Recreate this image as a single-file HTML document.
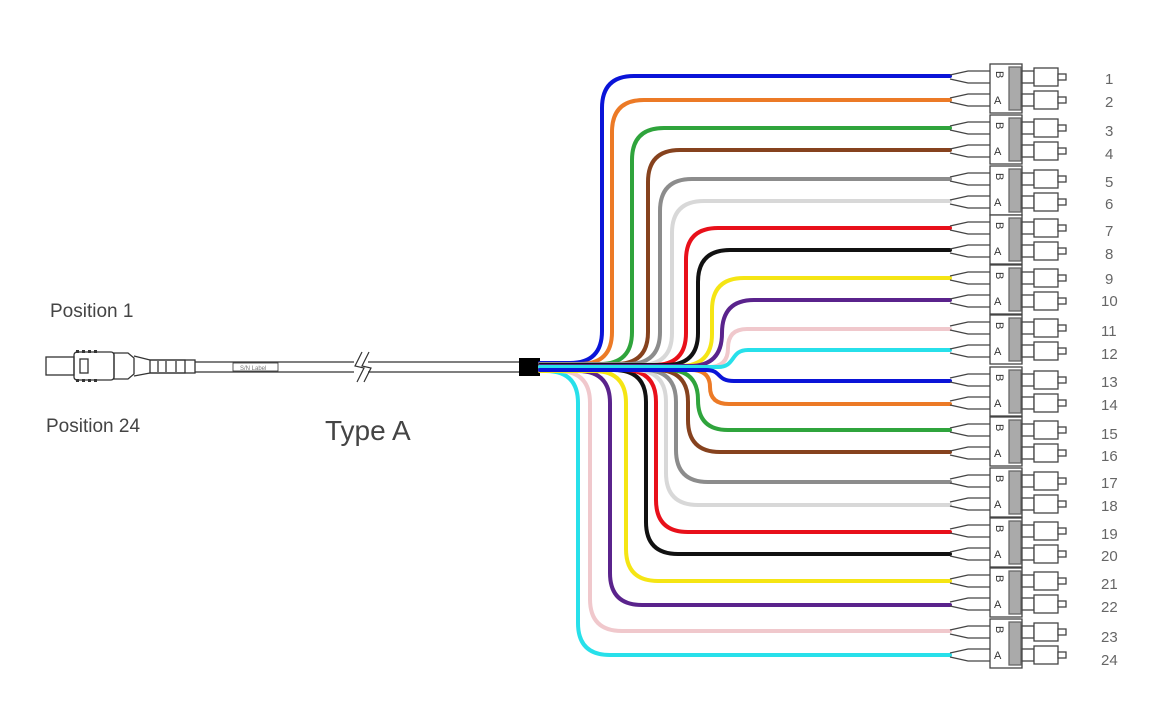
<!DOCTYPE html>
<html><head><meta charset="utf-8"><style>
html,body{margin:0;padding:0;background:#fff;}
svg{display:block}
text{font-family:"Liberation Sans",sans-serif;}
</style></head><body>
<svg width="1169" height="721" viewBox="0 0 1169 721" xmlns="http://www.w3.org/2000/svg">
<defs>
<g id="lc" fill="none" stroke="#444" stroke-width="1.3">
  <path d="M950,-2 L968,-6 H990 M950,2 L968,6 H990" />
  <path d="M950,21 L968,17 H990 M950,25 L968,29 H990" />
  <rect x="990" y="-13" width="32" height="49" fill="#fff"/>
  <rect x="1009" y="-10" width="12" height="43" fill="#aaa" stroke="#666"/>
  <rect x="1022" y="-6" width="12" height="12" fill="#fff"/>
  <rect x="1022" y="17" width="12" height="12" fill="#fff"/>
  <rect x="1034" y="-9" width="24" height="18" fill="#fff"/>
  <rect x="1034" y="14" width="24" height="18" fill="#fff"/>
  <rect x="1058" y="-3" width="8" height="6" fill="#fff"/>
  <rect x="1058" y="20" width="8" height="6" fill="#fff"/>
</g>
</defs>

<!-- left connector -->
<g fill="none" stroke="#333" stroke-width="1.3">
  <rect x="46" y="357" width="28" height="18"/>
  <rect x="74" y="352" width="40" height="28" rx="3"/>
  <rect x="80" y="359" width="8" height="14"/>
  <path d="M114,353 H128 L134,358 V374 L128,379 H114 Z"/>
  <path d="M134,356 L150,360 H185 V373 H150 L134,376"/>
  <rect x="150" y="360" width="45" height="13"/>
  <path d="M158,361 V372 M166,361 V372 M176,361 V372"/>
  <path d="M195,362 H520 M195,372 H520"/>
  <rect x="233" y="363" width="45" height="8" stroke-width="0.8"/>
</g>
<text x="240" y="370" font-size="6" fill="#777">S/N Label</text>
<g fill="#333"><rect x="76" y="350" width="3" height="3"/><rect x="82" y="350" width="3" height="3"/><rect x="88" y="350" width="3" height="3"/><rect x="94" y="350" width="3" height="3"/><rect x="76" y="379" width="3" height="3"/><rect x="82" y="379" width="3" height="3"/><rect x="88" y="379" width="3" height="3"/><rect x="94" y="379" width="3" height="3"/></g>
<rect x="354" y="358" width="14" height="18" fill="#fff"/>
<path d="M362,352 L355,366 L364,368 L357,382 M369,352 L362,366 L371,368 L364,382" fill="none" stroke="#333" stroke-width="1.2"/>
<rect x="519" y="358" width="21" height="18" fill="#000"/>

<!-- wires -->
<g fill="none" stroke-width="4" stroke-linecap="round">
<path stroke="#0a14d8" d="M540,363 H570 Q602,363 602,331 V108 Q602,76 634,76 H950"/>
<path stroke="#ec7a26" d="M540,364 H580 Q612,364 612,332 V132 Q612,100 644,100 H950"/>
<path stroke="#2fa43c" d="M540,364 H600 Q632,364 632,332 V160 Q632,128 664,128 H950"/>
<path stroke="#86421e" d="M540,364 H616 Q648,364 648,332 V182 Q648,150 680,150 H950"/>
<path stroke="#8c8c8c" d="M540,364 H628 Q660,364 660,332 V211 Q660,179 692,179 H950"/>
<path stroke="#d8d8d8" d="M540,365 H640 Q672,365 672,333 V233 Q672,201 704,201 H950"/>
<path stroke="#e8101a" d="M540,365 H654 Q686,365 686,333 V260 Q686,228 718,228 H950"/>
<path stroke="#111" d="M540,365 H666 Q698,365 698,333 V282 Q698,250 730,250 H950"/>
<path stroke="#f5e514" d="M540,366 H680 Q712,366 712,334 V310 Q712,278 744,278 H950"/>
<path stroke="#5a238c" d="M540,366 H690 Q722,366 722,333 Q722,300 754,300 H950"/>
<path stroke="#f0c8cc" d="M540,367 H709 Q728,367 728,348 Q728,329 747,329 H950"/>
<path stroke="#27e0ea" d="M540,367 H718 C736,367 730,350 748,350 H950"/>
<path stroke="#27e0ea" d="M540,371 H546 Q578,371 578,403 V623 Q578,655 610,655 H950"/>
<path stroke="#f0c8cc" d="M540,371 H558 Q590,371 590,403 V599 Q590,631 622,631 H950"/>
<path stroke="#5a238c" d="M540,371 H578 Q610,371 610,403 V573 Q610,605 642,605 H950"/>
<path stroke="#f5e514" d="M540,371 H594 Q626,371 626,403 V549 Q626,581 658,581 H950"/>
<path stroke="#111" d="M540,370 H614 Q646,370 646,402 V522 Q646,554 678,554 H950"/>
<path stroke="#e8101a" d="M540,370 H624 Q656,370 656,402 V500 Q656,532 688,532 H950"/>
<path stroke="#d8d8d8" d="M540,370 H634 Q666,370 666,402 V473 Q666,505 698,505 H950"/>
<path stroke="#8c8c8c" d="M540,370 H644 Q676,370 676,402 V450 Q676,482 708,482 H950"/>
<path stroke="#86421e" d="M540,370 H656 Q688,370 688,402 V420 Q688,452 720,452 H950"/>
<path stroke="#2fa43c" d="M540,370 H668 Q698,370 698,400 Q698,430 728,430 H950"/>
<path stroke="#ec7a26" d="M540,370 H691 Q710,370 710,387 Q710,404 729,404 H950"/>
<path stroke="#0a14d8" d="M540,370 H706 C722,370 716,381 734,381 H950"/>
</g>

<!-- LC connectors -->
<g font-size="11" fill="#333">
<use href="#lc" transform="translate(0,77)"/><text x="994" y="81" transform="rotate(90 1000 77)">B</text><text x="994" y="104">A</text>
<use href="#lc" transform="translate(0,128)"/><text x="994" y="132" transform="rotate(90 1000 128)">B</text><text x="994" y="155">A</text>
<use href="#lc" transform="translate(0,179)"/><text x="994" y="183" transform="rotate(90 1000 179)">B</text><text x="994" y="206">A</text>
<use href="#lc" transform="translate(0,228)"/><text x="994" y="232" transform="rotate(90 1000 228)">B</text><text x="994" y="255">A</text>
<use href="#lc" transform="translate(0,278)"/><text x="994" y="282" transform="rotate(90 1000 278)">B</text><text x="994" y="305">A</text>
<use href="#lc" transform="translate(0,328)"/><text x="994" y="332" transform="rotate(90 1000 328)">B</text><text x="994" y="355">A</text>
<use href="#lc" transform="translate(0,380)"/><text x="994" y="384" transform="rotate(90 1000 380)">B</text><text x="994" y="407">A</text>
<use href="#lc" transform="translate(0,430)"/><text x="994" y="434" transform="rotate(90 1000 430)">B</text><text x="994" y="457">A</text>
<use href="#lc" transform="translate(0,481)"/><text x="994" y="485" transform="rotate(90 1000 481)">B</text><text x="994" y="508">A</text>
<use href="#lc" transform="translate(0,531)"/><text x="994" y="535" transform="rotate(90 1000 531)">B</text><text x="994" y="558">A</text>
<use href="#lc" transform="translate(0,581)"/><text x="994" y="585" transform="rotate(90 1000 581)">B</text><text x="994" y="608">A</text>
<use href="#lc" transform="translate(0,632)"/><text x="994" y="636" transform="rotate(90 1000 632)">B</text><text x="994" y="659">A</text>
</g>

<!-- numbers -->
<g font-size="15" fill="#666">
<text x="1105" y="84">1</text><text x="1105" y="107">2</text>
<text x="1105" y="136">3</text><text x="1105" y="159">4</text>
<text x="1105" y="187">5</text><text x="1105" y="209">6</text>
<text x="1105" y="236">7</text><text x="1105" y="259">8</text>
<text x="1105" y="284">9</text><text x="1101" y="306">10</text>
<text x="1101" y="336">11</text><text x="1101" y="359">12</text>
<text x="1101" y="387">13</text><text x="1101" y="410">14</text>
<text x="1101" y="439">15</text><text x="1101" y="461">16</text>
<text x="1101" y="488">17</text><text x="1101" y="511">18</text>
<text x="1101" y="539">19</text><text x="1101" y="561">20</text>
<text x="1101" y="589">21</text><text x="1101" y="612">22</text>
<text x="1101" y="642">23</text><text x="1101" y="665">24</text>
</g>

<text x="50" y="317" font-size="19" fill="#444">Position 1</text>
<text x="46" y="432" font-size="19" fill="#444">Position 24</text>
<text x="325" y="440" font-size="28" fill="#444">Type A</text>
</svg>
</body></html>
